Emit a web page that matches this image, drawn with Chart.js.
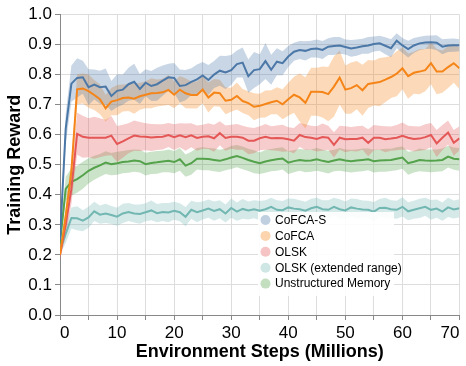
<!DOCTYPE html>
<html>
<head>
<meta charset="utf-8">
<script src="https://cdn.jsdelivr.net/npm/chart.js@4/dist/chart.umd.min.js"></script>
<style>
html,body{margin:0;padding:0;background:#fff;}
canvas{display:block;}
</style>
</head>
<body>
<canvas id="c" width="466" height="366"></canvas>
<script>
const steps = [0,1,2,3,4,5,6,7,8,9,10,11,12,13,14,15,16,17,18,19,20,21,22,23,24,25,26,27,28,29,30,31,32,33,34,35,36,37,38,39,40,41,42,43,44,45,46,47,48,49,50,51,52,53,54,55,56,57,58,59,60,61,62,63,64,65,66,67,68,69,70];
const xTickLabels = ["0","10","20","30","40","50","60","70"];
const yTickLabels = ["0.0","0.1","0.2","0.3","0.4","0.5","0.6","0.7","0.8","0.9","1.0"];
const seriesNames = ["CoFCA-S","CoFCA","OLSK","OLSK (extended range)","Unstructured Memory"];

const cofcaS = [0.25,0.62,0.77,0.789,0.791,0.758,0.767,0.758,0.76,0.729,
 0.746,0.75,0.768,0.776,0.752,0.773,0.762,0.768,0.78,0.791,
 0.789,0.762,0.765,0.776,0.784,0.797,0.782,0.80,0.813,0.807,
 0.815,0.835,0.84,0.795,0.815,0.818,0.845,0.816,0.843,0.838,
 0.86,0.876,0.882,0.879,0.885,0.887,0.882,0.893,0.895,0.897,
 0.892,0.887,0.89,0.894,0.897,0.902,0.904,0.896,0.888,0.913,
 0.897,0.885,0.897,0.904,0.907,0.908,0.906,0.893,0.897,0.898,
 0.898];
const cofcaSSd = [0.015,0.05,0.06,0.065,0.055,0.06,0.05,0.055,0.06,0.05,
 0.055,0.05,0.055,0.06,0.05,0.045,0.05,0.055,0.05,0.045,
 0.05,0.055,0.05,0.045,0.05,0.045,0.05,0.045,0.05,0.055,
 0.05,0.045,0.05,0.055,0.06,0.05,0.06,0.05,0.045,0.04,
 0.035,0.03,0.03,0.032,0.028,0.03,0.03,0.028,0.03,0.028,
 0.025,0.028,0.027,0.025,0.028,0.025,0.025,0.028,0.03,0.025,
 0.025,0.028,0.025,0.022,0.022,0.022,0.025,0.025,0.022,0.022,
 0.02];

const cofca = [0.2,0.33,0.48,0.751,0.754,0.745,0.732,0.718,0.688,0.71,
 0.715,0.722,0.724,0.72,0.728,0.733,0.738,0.739,0.741,0.749,
 0.733,0.75,0.738,0.732,0.732,0.75,0.724,0.74,0.738,0.713,
 0.716,0.729,0.712,0.705,0.693,0.696,0.702,0.708,0.713,0.701,
 0.718,0.733,0.724,0.706,0.743,0.743,0.742,0.735,0.76,0.79,
 0.75,0.755,0.765,0.748,0.769,0.772,0.775,0.783,0.792,0.803,
 0.821,0.795,0.806,0.81,0.815,0.838,0.81,0.81,0.825,0.838,
 0.821];
const cofcaSd = [0.015,0.03,0.035,0.05,0.05,0.055,0.05,0.05,0.045,0.045,
 0.05,0.045,0.045,0.05,0.045,0.045,0.05,0.045,0.045,0.05,
 0.045,0.045,0.05,0.045,0.045,0.045,0.05,0.045,0.045,0.045,
 0.04,0.045,0.04,0.04,0.045,0.04,0.045,0.04,0.045,0.05,
 0.055,0.06,0.08,0.085,0.08,0.08,0.085,0.09,0.1,0.09,
 0.08,0.085,0.08,0.085,0.08,0.075,0.08,0.075,0.07,0.075,
 0.07,0.075,0.07,0.075,0.07,0.07,0.075,0.07,0.07,0.065,
 0.07];

const olsk = [0.2,0.30,0.42,0.603,0.593,0.59,0.59,0.59,0.59,0.597,
 0.569,0.578,0.588,0.597,0.594,0.593,0.591,0.592,0.593,0.599,
 0.592,0.598,0.592,0.598,0.589,0.593,0.595,0.588,0.605,0.589,
 0.593,0.593,0.59,0.58,0.58,0.588,0.593,0.588,0.589,0.588,
 0.585,0.58,0.599,0.592,0.59,0.586,0.592,0.59,0.566,0.59,
 0.585,0.586,0.586,0.59,0.573,0.59,0.59,0.585,0.587,0.59,
 0.596,0.59,0.586,0.587,0.592,0.599,0.571,0.59,0.607,0.573,
 0.588];
const olskSd = [0.015,0.04,0.05,0.07,0.07,0.065,0.07,0.065,0.06,0.065,
 0.06,0.055,0.05,0.05,0.048,0.045,0.045,0.043,0.042,0.04,
 0.043,0.04,0.045,0.04,0.042,0.04,0.043,0.045,0.04,0.042,
 0.04,0.043,0.04,0.045,0.042,0.04,0.043,0.04,0.042,0.045,
 0.04,0.042,0.04,0.043,0.04,0.042,0.045,0.04,0.042,0.04,
 0.043,0.04,0.042,0.04,0.045,0.042,0.04,0.043,0.04,0.042,
 0.045,0.04,0.042,0.04,0.043,0.04,0.045,0.042,0.04,0.043,
 0.04];

const olskExt = [0.216,0.27,0.323,0.322,0.314,0.325,0.345,0.334,0.338,0.333,
 0.327,0.338,0.343,0.338,0.336,0.342,0.348,0.339,0.343,0.341,
 0.347,0.342,0.327,0.35,0.342,0.348,0.354,0.346,0.352,0.338,
 0.356,0.344,0.353,0.348,0.352,0.347,0.352,0.36,0.35,0.349,
 0.358,0.354,0.352,0.347,0.355,0.36,0.352,0.35,0.36,0.352,
 0.348,0.358,0.354,0.351,0.35,0.344,0.356,0.357,0.352,0.35,
 0.36,0.345,0.35,0.355,0.36,0.35,0.354,0.344,0.358,0.351,
 0.355];
const olskExtSd = [0.015,0.03,0.035,0.04,0.035,0.035,0.032,0.03,0.032,0.03,
 0.03,0.032,0.03,0.03,0.032,0.03,0.033,0.03,0.03,0.032,
 0.03,0.03,0.032,0.03,0.033,0.03,0.03,0.032,0.03,0.03,
 0.032,0.03,0.033,0.03,0.03,0.032,0.03,0.03,0.032,0.03,
 0.03,0.033,0.03,0.03,0.032,0.03,0.03,0.032,0.03,0.033,
 0.03,0.03,0.032,0.03,0.03,0.032,0.03,0.033,0.03,0.03,
 0.032,0.03,0.03,0.032,0.03,0.033,0.03,0.03,0.032,0.03,
 0.03];

const unstructured = [0.24,0.42,0.443,0.452,0.465,0.48,0.49,0.498,0.507,0.502,
 0.505,0.509,0.511,0.514,0.512,0.502,0.506,0.508,0.511,0.513,
 0.509,0.518,0.497,0.505,0.52,0.52,0.519,0.516,0.513,0.518,
 0.524,0.529,0.523,0.516,0.51,0.505,0.511,0.515,0.518,0.521,
 0.507,0.512,0.516,0.513,0.514,0.518,0.513,0.509,0.514,0.518,
 0.514,0.512,0.514,0.516,0.518,0.512,0.514,0.515,0.516,0.52,
 0.524,0.505,0.51,0.516,0.514,0.513,0.514,0.516,0.527,0.52,
 0.518];
const unstructuredSd = [0.015,0.04,0.045,0.045,0.045,0.042,0.04,0.038,0.038,0.037,
 0.038,0.037,0.038,0.037,0.038,0.038,0.037,0.038,0.036,0.038,
 0.037,0.038,0.037,0.038,0.036,0.038,0.037,0.038,0.037,0.036,
 0.038,0.037,0.038,0.037,0.038,0.036,0.038,0.037,0.038,0.037,
 0.038,0.037,0.036,0.038,0.037,0.038,0.037,0.038,0.036,0.038,
 0.037,0.038,0.037,0.038,0.036,0.038,0.037,0.038,0.037,0.038,
 0.037,0.038,0.036,0.038,0.037,0.038,0.037,0.038,0.036,0.037,
 0.038];

const colors = ["#4c78a8","#f58518","#e45756","#72b7b2","#54a24b"];
const means = [cofcaS, cofca, olsk, olskExt, unstructured];
const sds = [cofcaSSd, cofcaSd, olskSd, olskExtSd, unstructuredSd];

function rgba(hex, a){
  const n = parseInt(hex.slice(1),16);
  return `rgba(${(n>>16)&255},${(n>>8)&255},${n&255},${a})`;
}

const datasets = [];
// lines first (drawn on top), bands afterwards with higher order
means.forEach((m, s) => {
  datasets.push({
    label: seriesNames[s],
    data: steps.map((x,i)=>({x, y:m[i]})),
    borderColor: colors[s], borderWidth: 2, pointRadius: 0, fill: false, order: 0
  });
});
means.forEach((m, s) => {
  const upIdx = datasets.length;
  datasets.push({
    label: seriesNames[s] + ' upper',
    data: steps.map((x,i)=>({x, y:m[i]+sds[s][i]})),
    borderWidth: 0, borderColor: 'rgba(0,0,0,0)', pointRadius: 0, fill: false, order: 1
  });
  datasets.push({
    label: seriesNames[s] + ' lower',
    data: steps.map((x,i)=>({x, y:m[i]-sds[s][i]})),
    borderWidth: 0, borderColor: 'rgba(0,0,0,0)', pointRadius: 0,
    fill: upIdx, backgroundColor: rgba(colors[s], 0.3), order: 1
  });
});

const FONT = "'Liberation Sans', Arial, Helvetica, sans-serif";

const legendPlugin = {
  id: 'customLegend',
  afterDraw(chart){
    const ctx = chart.ctx;
    ctx.save();
    ctx.fillStyle = 'rgba(255,255,255,0.9)';
    ctx.fillRect(258, 212, 136, 84);
    ctx.font = "12px " + FONT;
    ctx.textBaseline = 'middle';
    ctx.textAlign = 'left';
    seriesNames.forEach((name, s) => {
      const y = 220 + s*15.9;
      ctx.beginPath();
      ctx.arc(265.5, y, 5, 0, Math.PI*2);
      ctx.fillStyle = rgba(colors[s], 0.35);
      ctx.fill();
      ctx.fillStyle = '#000';
      ctx.fillText(name, 275, y + 0.5);
    });
    ctx.restore();
  }
};

new Chart(document.getElementById('c'), {
  type: 'line',
  data: { datasets },
  options: {
    responsive: false,
    animation: false,
    devicePixelRatio: 1,
    layout: { padding: { left: 0, right: 6.5, top: 14.5, bottom: 0 } },
    plugins: { legend: { display: false }, tooltip: { enabled: false } },
    elements: { point: { radius: 0 }, line: { tension: 0 } },
    scales: {
      x: {
        type: 'linear', min: 0, max: 70,
        ticks: {
          stepSize: 5, autoSkip: false, maxRotation: 0, align: 'inner',
          padding: 3, color: '#000', font: { family: FONT, size: 17 },
          callback: (v) => { const s = String(v); return xTickLabels.includes(s) ? s : ''; }
        },
        grid: { color: '#dddddd', tickColor: '#888888', tickLength: 5, lineWidth: 1 },
        border: { color: '#888888' },
        title: { display: true, text: 'Environment Steps (Millions)', color: '#000',
                 font: { family: FONT, size: 18, weight: 'bold' }, padding: { top: 0, bottom: 3.5 } },
        afterFit: (s) => { s.height = 51; }
      },
      y: {
        type: 'linear', min: 0, max: 1,
        ticks: {
          stepSize: 0.1, padding: 3, color: '#000', font: { family: FONT, size: 17 },
          callback: (v) => yTickLabels[Math.round(v*10)]
        },
        grid: { color: '#dddddd', tickColor: '#888888', tickLength: 5, lineWidth: 1 },
        border: { color: '#888888' },
        title: { display: true, text: 'Training Reward', color: '#000',
                 font: { family: FONT, size: 18, weight: 'bold' }, padding: { top: 4, bottom: 0 } },
        afterFit: (s) => { s.width = 60; }
      }
    }
  },
  plugins: [legendPlugin]
});
</script>
</body>
</html>
